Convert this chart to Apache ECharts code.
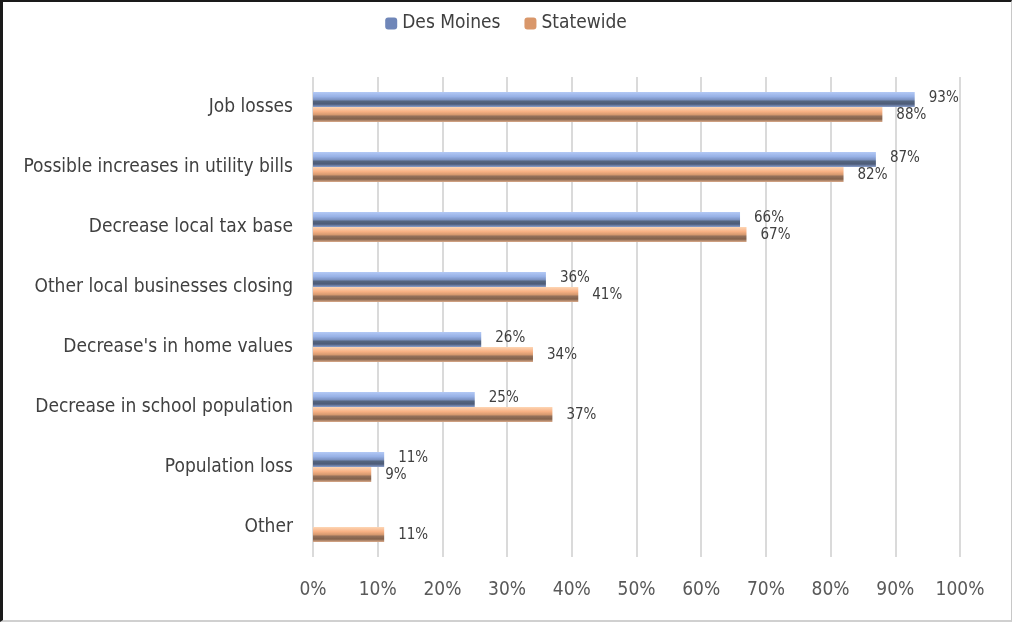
<!DOCTYPE html>
<html>
<head>
<meta charset="utf-8">
<script src="https://cdn.jsdelivr.net/npm/echarts@6/dist/echarts.min.js"></script>
<style>
html,body{margin:0;padding:0;background:#fff;}
#wrap{position:absolute;left:0;top:0;width:1012px;height:622px;box-sizing:border-box;border-top:2px solid #1a1a1a;border-left:3px solid #1a1a1a;border-right:1px solid #c8c8c8;border-bottom:2px solid #d0d0d0;}
#chart{position:absolute;left:0;top:0;width:1012px;height:622px;}
</style>
</head>
<body>
<div id="chart"></div>
<div id="wrap"></div>
<script>
const categories = ["Job losses","Possible increases in utility bills","Decrease local tax base","Other local businesses closing","Decrease's in home values","Decrease in school population","Population loss","Other"];
const desMoines = [93, 87, 66, 36, 26, 25, 11, null];
const statewide = [88, 82, 67, 41, 34, 37, 9, 11];
const xTicks = [0,10,20,30,40,50,60,70,80,90,100];

const FONT = "'Liberation Sans Narrow','DejaVu Sans Condensed','Liberation Sans',sans-serif";

function grad(stops){
  return new echarts.graphic.LinearGradient(0,0,0,1, stops.map(s=>({offset:s[0],color:s[1]})));
}
const blueGrad = grad([[0,'#b3c9f5'],[0.3,'#97b1e6'],[0.5,'#7d94c4'],[0.62,'#55667f'],[0.8,'#4c5b78'],[1,'#8ba1cf']]);
const orangeGrad = grad([[0,'#fdd6b5'],[0.3,'#f8b184'],[0.5,'#d89a70'],[0.62,'#94705a'],[0.8,'#82614b'],[1,'#dcab8a']]);

const chart = echarts.init(document.getElementById('chart'), null, {renderer:'canvas'});
chart.setOption({
  animation:false,
  backgroundColor:'#ffffff',
  textStyle:{fontFamily:FONT},
  legend:{
    top:9, left:'center',
    itemWidth:12, itemHeight:12, itemGap:24,
    textStyle:{fontSize:19, color:'#404040', fontFamily:FONT},
    data:[{name:'Des Moines', itemStyle:{color:'#6f86b8'}},{name:'Statewide', itemStyle:{color:'#d9976a'}}]
  },
  grid:{left:313, right:52, top:77, bottom:65, containLabel:false},
  xAxis:{
    type:'value', min:0, max:100, interval:10,
    axisLine:{show:false}, axisTick:{show:false},
    splitLine:{show:true, lineStyle:{color:'#dadada', width:2}},
    axisLabel:{formatter:v=>v+'%', fontSize:19, color:'#595959', margin:24, fontFamily:FONT}
  },
  yAxis:{
    type:'category', data:categories, inverse:true,
    axisLine:{show:false}, axisTick:{show:false},
    axisLabel:{fontSize:19, color:'#404040', margin:20, fontFamily:FONT}
  },
  series:[
    {name:'Des Moines', type:'bar', data:desMoines, barWidth:15, barGap:'0%',
     itemStyle:{color:blueGrad},
     label:{show:true, position:'right', distance:14, offset:[0,-1], formatter:p=>p.value==null?'':p.value+'%', fontSize:15, color:'#404040', fontFamily:FONT}},
    {name:'Statewide', type:'bar', data:statewide, barWidth:15, barGap:'0%',
     itemStyle:{color:orangeGrad},
     label:{show:true, position:'right', distance:14, offset:[0,1], formatter:p=>p.value+'%', fontSize:15, color:'#404040', fontFamily:FONT}}
  ]
});
</script>
</body>
</html>
